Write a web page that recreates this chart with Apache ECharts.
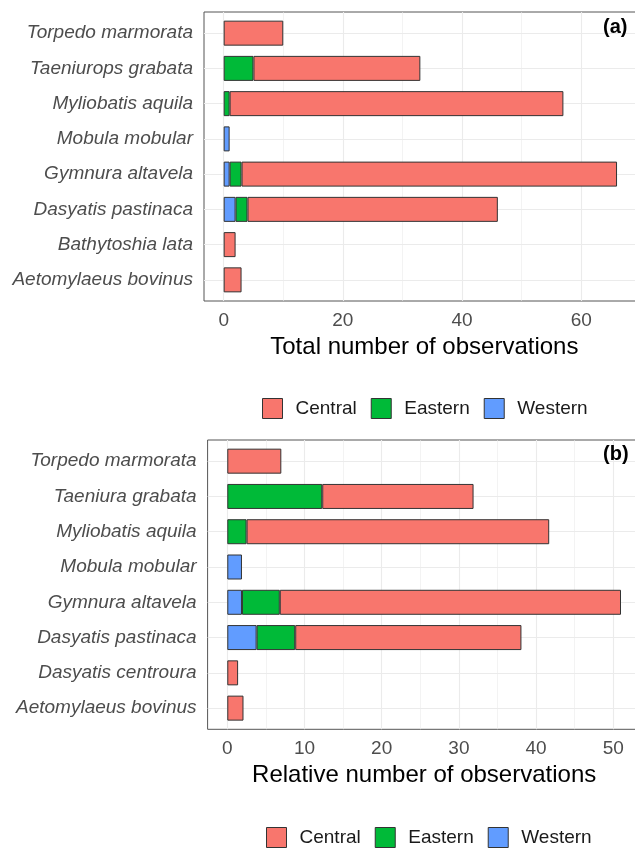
<!DOCTYPE html>
<html><head><meta charset="utf-8">
<script src="https://cdn.jsdelivr.net/npm/echarts@6/dist/echarts.min.js"></script>
<style>html,body{margin:0;padding:0;background:#fff}#c{width:635px;height:848px}</style>
</head><body><div id="c"></div>
<script>
// ---- Data ----
const regions = ['Central', 'Eastern', 'Western'];

const catsA = ['Torpedo marmorata','Taeniurops grabata','Myliobatis aquila','Mobula mobular','Gymnura altavela','Dasyatis pastinaca','Bathytoshia lata','Aetomylaeus bovinus'];
const westernA = [0, 0, 0, 1, 1, 2, 0, 0];
const easternA = [0, 5, 1, 0, 2, 2, 0, 0];
const centralA = [10, 28, 56, 0, 63, 42, 2, 3];
const ticksA = [0, 20, 40, 60];
const minorTicksA = [10, 30, 50];
const xLimitsA = [-3.3, 69.3];
const titleA = 'Total number of observations';
const tagA = '(a)';

const catsB = ['Torpedo marmorata','Taeniura grabata','Myliobatis aquila','Mobula mobular','Gymnura altavela','Dasyatis pastinaca','Dasyatis centroura','Aetomylaeus bovinus'];
const westernB = [0, 0, 0, 1.9, 1.9, 3.8, 0, 0];
const easternB = [0, 12.3, 2.5, 0, 4.9, 5.0, 0, 0];
const centralB = [7.0, 19.6, 39.2, 0, 44.2, 29.3, 1.4, 2.1];
const ticksB = [0, 10, 20, 30, 40, 50];
const minorTicksB = [5, 15, 25, 35, 45];
const xLimitsB = [-2.55, 53.55];
const titleB = 'Relative number of observations';
const tagB = '(b)';

// ---- Style ----
const FONT = "'Liberation Sans', Arial, sans-serif";
const colors = { Central: '#F8766D', Eastern: '#00BA38', Western: '#619CFF' };
const GRID_COLOR = '#EBEBEB';

function buildPanel(p, gi) {
  const band = p.height / (p.cats.length + 0.2);
  const idx = p.cats.map((_, i) => i);
  const frameGrid = { left: p.left, right: p.right, top: p.top, height: p.height, show: true, borderColor: '#555', borderWidth: 1,
    backgroundColor: 'transparent', containLabel: false, outerBoundsMode: 'none' };
  const barGrid = { left: p.left, right: p.right, top: p.top + 0.1 * band, height: p.cats.length * band,
    containLabel: false, outerBoundsMode: 'none' };
  const xFrame = {
    type: 'value', gridIndex: gi, min: p.xLim[0], max: p.xLim[1],
    axisLine: { show: false }, splitLine: { show: false },
    axisTick: { show: true, customValues: p.ticks, length: 5, lineStyle: { color: '#333', width: 1 } },
    axisLabel: { customValues: p.ticks, margin: 10, color: '#4D4D4D', fontSize: 19, fontFamily: FONT, lineHeight: 19 },
    name: p.title, nameLocation: 'middle', nameGap: 34,
    nameTextStyle: { fontSize: 24, color: '#000', fontFamily: FONT, lineHeight: 24, padding: p.titlePad }
  };
  const yFrame = {
    type: 'value', gridIndex: gi, min: -0.6, max: p.cats.length - 0.4, inverse: true,
    axisLine: { show: false }, splitLine: { show: false },
    axisTick: { show: true, customValues: idx, length: 5, lineStyle: { color: '#333', width: 1 } },
    axisLabel: { customValues: idx, margin: 11, color: '#4D4D4D', fontSize: 19, fontStyle: 'italic', fontFamily: FONT,
      formatter: v => p.cats[Math.round(v)] }
  };
  const xBar = { type: 'value', gridIndex: gi + 1, min: p.xLim[0], max: p.xLim[1], show: false };
  const yBar = { type: 'category', gridIndex: gi + 1, data: p.cats, inverse: true, show: false };

  const gridLines = [];
  p.ticks.forEach(v => gridLines.push({ xAxis: v, lineStyle: { color: GRID_COLOR, width: 1.1, type: 'solid' } }));
  p.minor.forEach(v => gridLines.push({ xAxis: v, lineStyle: { color: GRID_COLOR, width: 0.6, type: 'solid' } }));
  idx.forEach(i => gridLines.push({ yAxis: i, lineStyle: { color: GRID_COLOR, width: 1.1, type: 'solid' } }));

  const series = [{
    type: 'line', xAxisIndex: gi, yAxisIndex: gi, data: [], silent: true, z: 1,
    markLine: { silent: true, symbol: ['none', 'none'], label: { show: false }, animation: false, z: 1, data: gridLines }
  }];
  const stackOrder = [['Western', p.western], ['Eastern', p.eastern], ['Central', p.central]];
  stackOrder.forEach(([name, vals]) => {
    series.push({
      type: 'bar', name, xAxisIndex: gi + 1, yAxisIndex: gi + 1, stack: 'panel' + gi, barWidth: 25, z: 3,
      data: vals.map(v => (v === 0 ? null : v)),
      itemStyle: { color: colors[name], borderColor: '#333', borderWidth: 1 }
    });
  });
  const legend = {
    left: p.legendLeft, top: p.legendTop, padding: 0, orient: 'horizontal', itemWidth: 20, itemHeight: 20, itemGap: 14,
    data: regions, icon: 'rect', selectedMode: false,
    textStyle: { fontSize: 19, color: '#1a1a1a', fontFamily: FONT, padding: [0, 0, 0, 8], lineHeight: 20 },
    itemStyle: { borderColor: '#333', borderWidth: 1 }
  };
  const tag = { type: 'text', left: p.tagX, top: p.tagY, z: 10,
    style: { text: p.tag, font: 'bold 20px ' + FONT, fill: '#000' } };
  return { grids: [frameGrid, barGrid], xAxes: [xFrame, xBar], yAxes: [yFrame, yBar], series, legend, tag };
}

const panelA = buildPanel({ cats: catsA, western: westernA, eastern: easternA, central: centralA, ticks: ticksA, minor: minorTicksA,
  xLim: xLimitsA, title: titleA, tag: tagA, left: 204, right: -1.7, top: 12, height: 289, titlePad: [0, 0, 0, 8],
  legendLeft: 262, legendTop: 398, tagX: 603, tagY: 17 }, 0);
const panelB = buildPanel({ cats: catsB, western: westernB, eastern: easternB, central: centralB, ticks: ticksB, minor: minorTicksB,
  xLim: xLimitsB, title: titleB, tag: tagB, left: 207.6, right: -5.7, top: 440, height: 289.3, titlePad: [0, 0, 0, 0],
  legendLeft: 266, legendTop: 827, tagX: 603, tagY: 444 }, 2);

const chart = echarts.init(document.getElementById('c'), null, { renderer: 'canvas' });
chart.setOption({
  animation: false,
  backgroundColor: '#fff',
  grid: [...panelA.grids, ...panelB.grids],
  xAxis: [...panelA.xAxes, ...panelB.xAxes],
  yAxis: [...panelA.yAxes, ...panelB.yAxes],
  legend: [panelA.legend, panelB.legend],
  series: [...panelA.series, ...panelB.series],
  graphic: [panelA.tag, panelB.tag]
});
</script></body></html>
